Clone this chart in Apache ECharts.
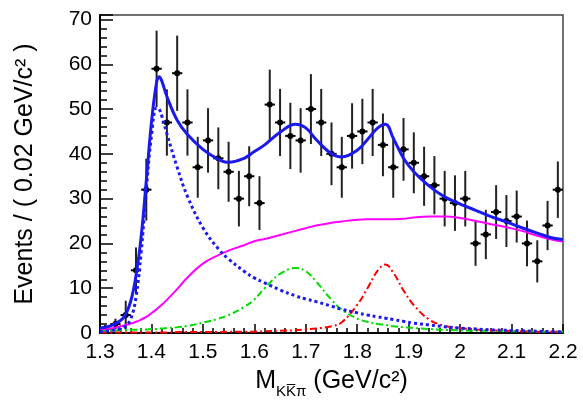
<!DOCTYPE html>
<html>
<head>
<meta charset="utf-8">
<script src="https://cdn.jsdelivr.net/npm/echarts@6/dist/echarts.min.js"></script>
<style>
  html, body { margin: 0; padding: 0; background: #fff; }
  #chart { width: 583px; height: 414px; }
</style>
</head>
<body>
<div id="chart"></div>
<script>
// data points: bins of 0.02 GeV from 1.30 to 2.20
var binLow = 1.30;
var binWidth = 0.02;
var counts = [1, 2, 4, 14, 32, 59, 47, 58, 47, 37, 43, 39, 36, 30, 35, 29, 51, 47, 44, 43, 50, 47, 40, 37, 44,
    45, 47, 42, 37, 41, 38, 35, 33, 30, 29, 30, 20, 22, 27, 25, 26, 20, 16, 24, 32];
var errors = [0.8, 1.2, 3.2, 5.1, 6.9, 8.5, 7.4, 8.4, 7.4, 6.8, 7.2, 6.9, 6.7, 6.2, 6.7, 6.0, 7.8, 7.5, 7.4, 7.2,
    7.8, 7.5, 7.0, 6.8, 7.3, 7.3, 7.5, 7.0, 6.8, 7.0, 6.8, 6.6, 6.5, 6.2, 6.2, 6.2, 5.0, 5.5, 6.0, 5.8, 5.8, 5.1,
    4.7, 5.5, 6.3];

// fit curves
var fitX = [1.30, 1.32, 1.34, 1.35, 1.36, 1.37, 1.38, 1.39, 1.40, 1.41, 1.415, 1.42, 1.43, 1.45, 1.47, 1.50, 1.53,
    1.55, 1.58, 1.60, 1.62, 1.65, 1.68, 1.70, 1.72, 1.75, 1.77, 1.80, 1.82, 1.84, 1.855, 1.87, 1.89, 1.91, 1.94,
    1.97, 2.00, 2.03, 2.06, 2.09, 2.12, 2.15, 2.18, 2.20];
var totalFit = [1.1, 1.6, 2.8, 4.2, 7.2, 12.8, 21.5, 34, 47, 56, 57.2, 56.3, 52.8, 47.5, 44.3, 41, 38.8, 38.1, 39.0,
    40.5, 42.0, 44.8, 46.6, 45.8, 43.2, 40.0, 39.3, 40.8, 43.2, 45.8, 46.6, 43.5, 39.0, 36.0, 32.8, 30.4, 28.8,
    27.4, 26.0, 24.8, 23.5, 22.3, 21.2, 20.9];
var peak1 = [0.3, 0.5, 1.0, 1.6, 3.2, 8, 18, 32, 44, 50.3, 50, 48.5, 44.5, 37, 30.5, 23.5, 18.8, 16.5, 13.8, 12.3,
    11.2, 9.6, 8.3, 7.6, 7.0, 6.0, 5.3, 4.5, 4.0, 3.6, 3.3, 3.0, 2.6, 2.2, 1.8, 1.4, 1.1, 0.9, 0.7, 0.6, 0.5, 0.4,
    0.3, 0.3];
var bkg = [0.7, 1.0, 1.5, 1.8, 2.1, 2.5, 3.0, 3.6, 4.4, 5.3, 5.8, 6.3, 7.4, 9.8, 12.4, 15.5, 17.4, 18.4, 19.6, 20.5,
    21.0, 21.9, 22.8, 23.4, 24.0, 24.6, 24.9, 25.3, 25.4, 25.4, 25.4, 25.4, 25.5, 25.8, 26.0, 26.0, 25.7, 25.0,
    24.3, 23.6, 22.8, 21.7, 20.8, 20.4];
var peak2 = [0.4, 0.5, 0.6, 0.6, 0.7, 0.7, 0.8, 0.8, 0.9, 0.9, 1.0, 1.0, 1.1, 1.3, 1.6, 2.3, 3.2, 4.0, 5.8, 7.5,
    10.0, 13.2, 14.5, 13.8, 11.5, 7.4, 5.2, 3.2, 2.5, 2.0, 1.8, 1.5, 1.3, 1.1, 0.9, 0.7, 0.6, 0.5, 0.5, 0.4, 0.4,
    0.3, 0.3, 0.3];
var peak3 = [0.1, 0.1, 0.1, 0.1, 0.1, 0.1, 0.1, 0.1, 0.1, 0.1, 0.1, 0.1, 0.1, 0.2, 0.2, 0.2, 0.2, 0.3, 0.3, 0.3,
    0.4, 0.5, 0.6, 0.8, 1.0, 1.5, 2.4, 6.3, 10.0, 14.0, 15.3, 13.5, 9.5, 6.2, 3.0, 1.6, 1.1, 0.8, 0.6, 0.5, 0.4,
    0.3, 0.3, 0.2];

var font = 'Liberation Sans, Arial, sans-serif';

function pairs(ys) {
    return fitX.map(function (x, i) { return [x, ys[i]]; });
}

var points = counts.map(function (n, i) {
    var c = +(binLow + binWidth * (i + 0.5)).toFixed(3);
    return [c, n, errors[i]];
});

function curve(ys, color, width, type) {
    return {
        type: 'line',
        data: pairs(ys),
        smooth: 0.4,
        showSymbol: false,
        clip: true,
        z: 3,
        lineStyle: { color: color, width: width, type: type },
        silent: true
    };
}

var myChart = echarts.init(document.getElementById('chart'));
var option = {
    animation: false,
    grid: {
        left: 100, right: 20, top: 15, bottom: 81,
        show: true, borderColor: '#444', borderWidth: 1.5
    },
    xAxis: {
        type: 'value',
        min: 1.3, max: 2.2, interval: 0.1,
        name: '{m|M}{s|KK\u0305\u03c0}{m| (GeV/c\u00b2)}',
        nameLocation: 'middle',
        nameGap: 36,
        nameTextStyle: {
            rich: {
                m: { fontFamily: font, fontSize: 25, color: '#000', lineHeight: 30, verticalAlign: 'top' },
                s: { fontFamily: font, fontSize: 15, color: '#000', lineHeight: 30, verticalAlign: 'bottom', padding: [12, 0, 0, 0] }
            }
        },
        axisLine: { onZero: false, lineStyle: { color: '#000', width: 2 } },
        axisTick: { inside: true, length: 9, lineStyle: { color: '#000', width: 1.5 } },
        minorTick: { show: true, splitNumber: 5, length: 5, lineStyle: { color: '#000', width: 1.5 } },
        axisLabel: { color: '#000', fontFamily: font, fontSize: 21, margin: 9 },
        splitLine: { show: false }
    },
    yAxis: {
        type: 'value',
        min: 0, max: 71, interval: 10,
        name: 'Events / ( 0.02 GeV/c\u00b2 )',
        nameLocation: 'middle',
        nameGap: 62,
        nameRotate: 90,
        nameTextStyle: { color: '#000', fontFamily: font, fontSize: 25 },
        axisLine: { lineStyle: { color: '#000', width: 2 } },
        axisTick: { inside: true, length: 13, lineStyle: { color: '#000', width: 1.5 } },
        minorTick: { show: true, splitNumber: 5, length: 7, lineStyle: { color: '#000', width: 1.5 } },
        axisLabel: {
            color: '#000', fontFamily: font, fontSize: 21, margin: 8,
            formatter: function (v) { return v % 10 === 0 ? String(v) : ''; }
        },
        splitLine: { show: false }
    },
    series: [
        {
            type: 'custom',
            data: points,
            z: 2,
            silent: true,
            renderItem: function (params, api) {
                var x = api.value(0), y = api.value(1), e = api.value(2);
                var p = api.coord([x, y]);
                var top = api.coord([x, y + e]);
                var bot = api.coord([x, Math.max(y - e, 0)]);
                var l = api.coord([x - binWidth / 2, y]);
                var r = api.coord([x + binWidth / 2, y]);
                return {
                    type: 'group',
                    children: [
                        { type: 'line', shape: { x1: p[0], y1: top[1], x2: p[0], y2: bot[1] }, style: { stroke: '#222', lineWidth: 2 } },
                        { type: 'line', shape: { x1: l[0], y1: p[1], x2: r[0], y2: p[1] }, style: { stroke: '#000', lineWidth: 2 } },
                        { type: 'circle', shape: { cx: p[0], cy: p[1], r: 3 }, style: { fill: '#000' } }
                    ]
                };
            }
        },
        curve(bkg, '#ff00ff', 2, 'solid'),
        curve(peak2, '#00dd00', 2, [7, 3, 2, 3]),
        curve(peak3, '#ff0000', 2, [7, 3, 2, 3]),
        curve(peak1, '#1a1aee', 3, [3, 3]),
        curve(totalFit, '#1a1aee', 3, 'solid')
    ]
};
myChart.setOption(option);
window.addEventListener('resize', function () {
    myChart.resize();
});
</script>
</body>
</html>
